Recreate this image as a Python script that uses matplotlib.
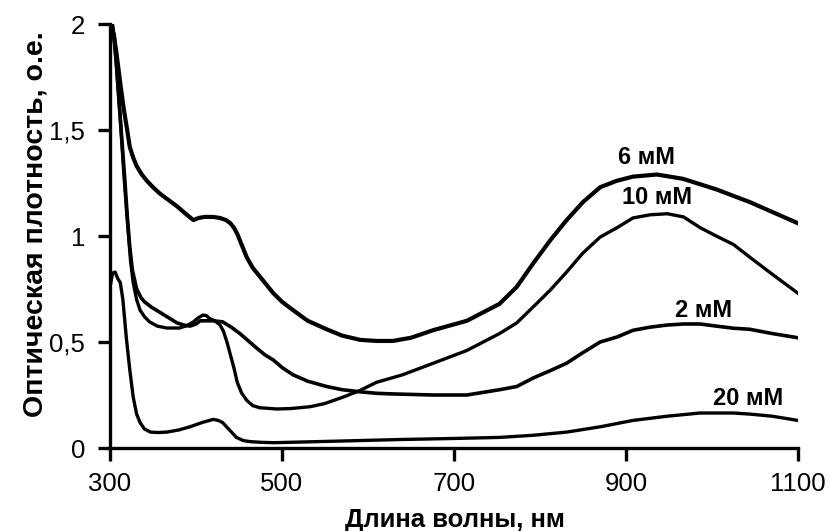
import matplotlib.pyplot as plt

plt.rcParams['font.family'] = ['Liberation Sans', 'DejaVu Sans']

# wavelength (nm) / optical density points
wl_6 = [303, 307, 312, 316, 320, 323, 327, 331, 337, 343, 350, 358, 368, 378, 388, 397, 403, 410, 420,
        428, 435, 440, 444, 448, 453, 459, 466, 474, 482, 490, 500, 513, 530, 552, 570, 591, 610, 629,
        650, 676, 715, 734, 753, 773, 792, 812, 831, 850, 870, 889, 908, 936, 966, 1005, 1044, 1100]
od_6 = [1.98, 1.88, 1.72, 1.60, 1.50, 1.42, 1.37, 1.33, 1.29, 1.26, 1.23, 1.20, 1.17, 1.14, 1.105, 1.075, 1.085, 1.09, 1.09,
        1.085, 1.075, 1.06, 1.04, 1.01, 0.96, 0.90, 0.85, 0.81, 0.77, 0.73, 0.69, 0.65, 0.60, 0.56, 0.53, 0.51, 0.505, 0.505,
        0.52, 0.556, 0.60, 0.64, 0.68, 0.76, 0.87, 0.98, 1.075, 1.16, 1.23, 1.26, 1.28, 1.29, 1.27, 1.22, 1.16, 1.06]

wl_10 = [303, 308, 312, 316, 320, 324, 327, 331, 335, 340, 346, 355, 366, 381, 390, 397, 403, 408, 412,
         416, 422, 428, 432, 436, 440, 444, 448, 453, 459, 466, 474, 494, 510, 533, 550, 571, 590, 610,
         640, 676, 715, 753, 773, 792, 812, 831, 850, 870, 890, 908, 928, 948, 967, 986, 1005, 1025,
         1044, 1070, 1100]
od_10 = [2.0, 1.78, 1.55, 1.30, 1.08, 0.88, 0.78, 0.70, 0.65, 0.62, 0.595, 0.575, 0.566, 0.566, 0.578, 0.595, 0.615, 0.627, 0.625,
         0.61, 0.60, 0.58, 0.55, 0.50, 0.44, 0.38, 0.31, 0.26, 0.225, 0.20, 0.19, 0.184, 0.186, 0.195, 0.21, 0.24, 0.27, 0.31,
         0.345, 0.40, 0.46, 0.54, 0.59, 0.665, 0.745, 0.83, 0.92, 0.995, 1.04, 1.085, 1.10, 1.105, 1.09, 1.04, 1.00, 0.96,
         0.90, 0.82, 0.73]

wl_2 = [305, 309, 313, 317, 320, 323, 326, 331, 336, 340, 348, 358, 368, 378, 386, 393, 400, 405, 412,
        420, 431, 441, 451, 461, 471, 480, 490, 500, 513, 530, 552, 570, 591, 610, 629, 676, 715, 753,
        773, 792, 812, 831, 850, 870, 890, 908, 928, 948, 967, 986, 1005, 1025, 1044, 1070, 1100]
od_2 = [1.95, 1.72, 1.50, 1.28, 1.10, 0.95, 0.84, 0.75, 0.71, 0.69, 0.665, 0.64, 0.615, 0.59, 0.58, 0.575, 0.585, 0.60, 0.60,
        0.60, 0.595, 0.57, 0.54, 0.505, 0.47, 0.44, 0.415, 0.38, 0.345, 0.315, 0.29, 0.275, 0.265, 0.258, 0.255, 0.25, 0.25, 0.275,
        0.29, 0.33, 0.365, 0.40, 0.45, 0.50, 0.524, 0.555, 0.57, 0.58, 0.585, 0.585, 0.575, 0.565, 0.56, 0.54, 0.52]

wl_20 = [301, 303, 306, 309, 312, 315, 319, 323, 327, 331, 335, 340, 347, 356, 366, 380, 393, 407, 420,
         426, 431, 439, 447, 455, 463, 475, 490, 560, 637, 700, 753, 792, 831, 870, 908, 948, 986, 1025,
         1044, 1070, 1100]
od_20 = [0.78, 0.825, 0.83, 0.80, 0.78, 0.70, 0.52, 0.37, 0.24, 0.16, 0.12, 0.09, 0.075, 0.073, 0.075, 0.085, 0.10, 0.12, 0.135,
         0.13, 0.12, 0.085, 0.05, 0.035, 0.03, 0.027, 0.025, 0.032, 0.04, 0.045, 0.05, 0.06, 0.075, 0.10, 0.13, 0.15, 0.165, 0.165,
         0.16, 0.15, 0.13]

labels = ['6 мМ', '10 мМ', '2 мМ', '20 мМ']
label_xy = [(924, 1.37), (936, 1.18), (990, 0.65), (1042, 0.235)]

fig = plt.figure(figsize=(8.3, 5.31), dpi=100)
ax = fig.add_axes([0.1325, 0.1563, 0.8289, 0.7985])

ax.plot(wl_6, od_6, color='black', lw=3.0, solid_joinstyle='round')
ax.plot(wl_10, od_10, color='black', lw=2.4, solid_joinstyle='round')
ax.plot(wl_2, od_2, color='black', lw=2.6, solid_joinstyle='round')
ax.plot(wl_20, od_20, color='black', lw=2.4, solid_joinstyle='round')

for text, (x, y) in zip(labels, label_xy):
    ax.text(x, y, text, ha='center', va='center', fontsize=17, fontweight='bold')

ax.set_xlim(300, 1100)
ax.set_ylim(0, 2)
ax.set_xticks([300, 500, 700, 900, 1100])
ax.set_yticks([0, 0.5, 1, 1.5, 2])
ax.set_yticklabels(['0', '0,5', '1', '1,5', '2'])
ax.spines['top'].set_visible(False)
ax.spines['right'].set_visible(False)
for s in ('left', 'bottom'):
    ax.spines[s].set_linewidth(2.4)
ax.tick_params(direction='out', length=9, width=2.4, labelsize=18.5)
ax.tick_params(axis='x', pad=8)
ax.tick_params(axis='y', pad=9)

ax.set_xlabel('Длина волны, нм', fontsize=18.5, fontweight='bold')
ax.xaxis.set_label_coords(0.501, -0.142)
ax.set_ylabel('Оптическая плотность, о.е.', fontsize=20.5, fontweight='bold')
ax.yaxis.set_label_coords(-0.09, 0.528)

fig.savefig('out.png', dpi=100)
